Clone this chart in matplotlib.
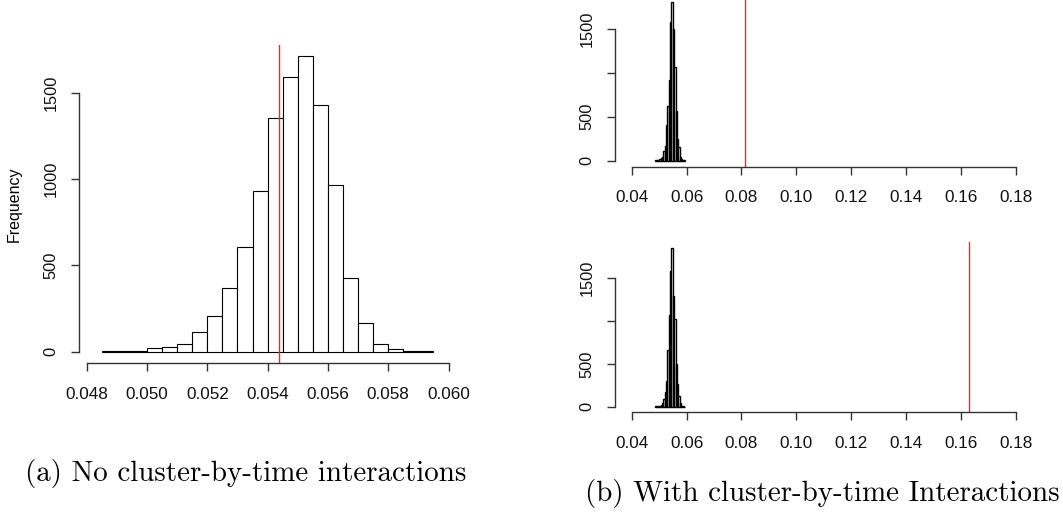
import matplotlib
matplotlib.use("Agg")
import matplotlib.pyplot as plt

# bin edges shared by all three histograms (width 0.0005)
bin_edges = [0.0485, 0.0490, 0.0495, 0.0500, 0.0505, 0.0510, 0.0515, 0.0520,
             0.0525, 0.0530, 0.0535, 0.0540, 0.0545, 0.0550, 0.0555, 0.0560,
             0.0565, 0.0570, 0.0575, 0.0580, 0.0585, 0.0590, 0.0595]

# (a) no cluster-by-time interactions
counts_a = [4, 4, 4, 19, 29, 46, 114, 207, 371, 608, 929, 1355,
            1593, 1710, 1429, 963, 429, 164, 42, 14, 4, 3]
observed_a = 0.05437

# (b) with interactions, top and bottom panels
counts_b1 = [5, 5, 5, 15, 25, 45, 110, 170, 400, 620, 920, 1580,
             1805, 1500, 1070, 560, 250, 160, 45, 15, 5, 3]
observed_b1 = 0.0814
counts_b2 = [3, 5, 5, 10, 20, 40, 95, 170, 300, 665, 1070, 1580,
             1850, 1290, 1030, 500, 260, 120, 40, 12, 5, 2]
observed_b2 = 0.1629

yticks = [0, 500, 1000, 1500]
xticks_a = [0.048, 0.050, 0.052, 0.054, 0.056, 0.058, 0.060]
xticks_b = [0.04, 0.06, 0.08, 0.10, 0.12, 0.14, 0.16, 0.18]

W, H = 1063, 521
plt.rcParams["font.family"] = ["Liberation Sans", "DejaVu Sans"]
fig = plt.figure(figsize=(W / 100, H / 100), dpi=100)


def add_axes_px(left, top, right, bottom):
    return fig.add_axes([left / W, 1 - bottom / H, (right - left) / W, (bottom - top) / H])


def draw_hist(ax, counts, observed, xlim, ylim, xticks, xfmt, ylabels, lw):
    widths = [bin_edges[i + 1] - bin_edges[i] for i in range(len(counts))]
    ax.bar(bin_edges[:-1], counts, width=widths, align="edge",
           facecolor="white", edgecolor="black", linewidth=lw)
    ax.axvline(observed, color="#ff2020", linewidth=1.0)
    ax.set_xlim(*xlim)
    ax.set_ylim(*ylim)
    for s in ["top", "right"]:
        ax.spines[s].set_visible(False)
    ax.spines["left"].set_bounds(0, 1500)
    ax.spines["bottom"].set_bounds(xticks[0], xticks[-1])
    for s in ["left", "bottom"]:
        ax.spines[s].set_color("#333333")
        ax.spines[s].set_linewidth(1.0)
    ax.set_yticks(yticks)
    ax.set_yticklabels(ylabels, rotation=90, va="center", fontsize=11.8)
    ax.set_xticks(xticks)
    ax.set_xticklabels([xfmt % v for v in xticks], fontsize=12.3)
    ax.tick_params(direction="out", length=6, width=1.0, color="#333333",
                   labelcolor="#111111")
    ax.tick_params(axis="y", pad=8.5)
    ax.tick_params(axis="x", pad=11)
    ax.patch.set_visible(False)


ax_a = add_axes_px(79, 45, 457, 363)
draw_hist(ax_a, counts_a, observed_a, (0.047744, 0.06028), (-65.4, 1776),
          xticks_a, "%.3f", ["0", "500", "1000", "1500"], 0.8)
ax_a.set_ylabel("Frequency", fontsize=11.5, labelpad=16)

ax_b1 = add_axes_px(615, -4.5, 1031, 166.7)
draw_hist(ax_b1, counts_b1, observed_b1, (0.03392, 0.18547), (-68.2, 1877),
          xticks_b, "%.2f", ["0", "500", "", "1500"], 1.0)

ax_b2 = add_axes_px(615, 241.7, 1031, 412.3)
draw_hist(ax_b2, counts_b2, observed_b2, (0.03392, 0.18547), (-65.4, 1927),
          xticks_b, "%.2f", ["0", "500", "", "1500"], 1.0)

fig.text(25 / W, 1 - 481 / H, "(a) No cluster-by-time interactions",
         family="cmr10", fontsize=20.9, ha="left", va="baseline")
fig.text(585 / W, 1 - 501 / H, "(b) With cluster-by-time Interactions",
         family="cmr10", fontsize=20.9, ha="left", va="baseline")

fig.savefig("out.png", dpi=100)
